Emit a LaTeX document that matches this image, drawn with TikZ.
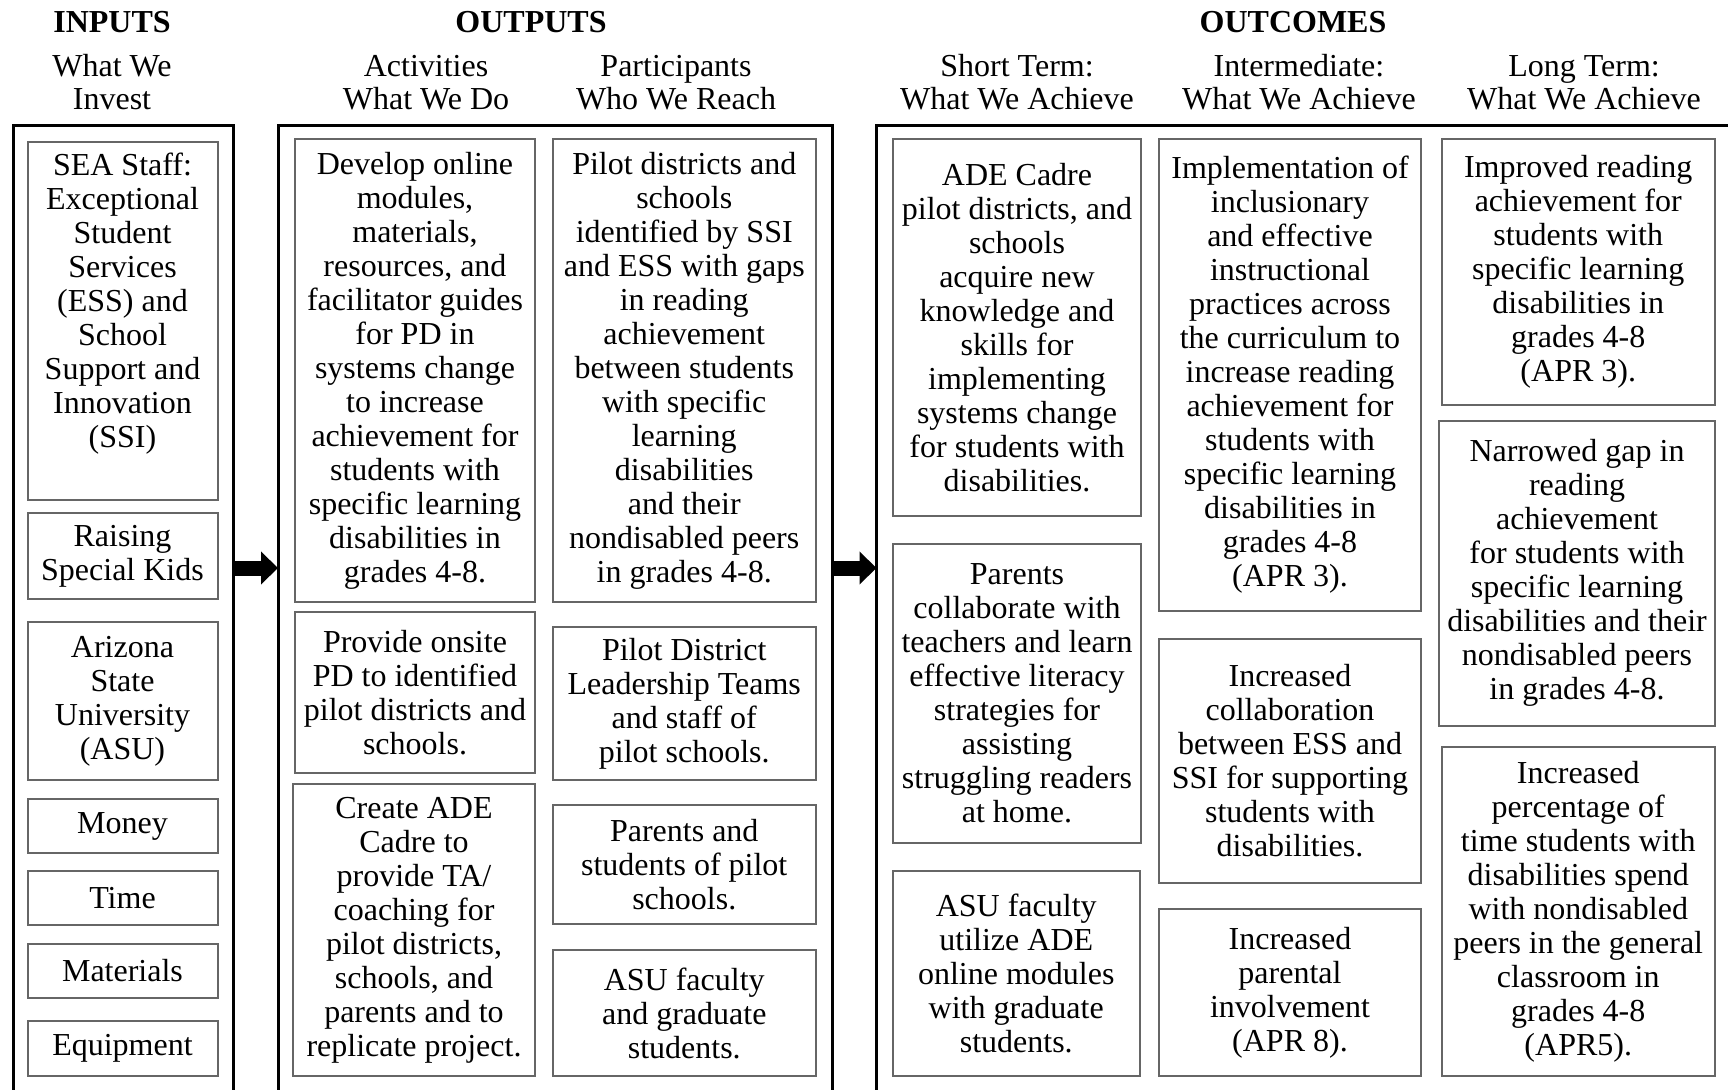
\documentclass[tikz,border=0pt]{standalone}
\usepackage{fontspec}
\setmainfont{Liberation Serif}
\usetikzlibrary{fit,arrows.meta}
\definecolor{boxgray}{gray}{0.4}
\tikzset{
  px/.style={x=0.5pt,y=-0.5pt},
  inbox/.style={draw=boxgray, line width=1pt, inner sep=0pt, outer sep=0pt},
  txt/.style={align=center, inner sep=0pt, font=\fontsize{16}{17}\selectfont},
  hdr/.style={align=center, inner sep=0pt, font=\fontsize{16}{16.5}\selectfont},
  ttl/.style={inner sep=0pt, font=\fontsize{16}{17}\selectfont\bfseries},
  frame/.style={draw=none, inner sep=0pt, outer sep=0pt},
  outline/.style={draw=black, line width=1.5pt},
  bigarrow/.style={line width=7.5pt, -{Triangle[length=8.5pt,width=16pt]}},
}
\newcommand\lmbox[7][0pt]{%
  \node[inbox, fit={(#3,#4) (#5,#6)}] (#2) {};
  \node[txt] (#2-t) at ([yshift=#1]#2.center) {#7};
}
\begin{document}
\begin{tikzpicture}[px]
\fill[white] (0,0) rectangle (1728,1090);
\useasboundingbox (0,0) rectangle (1728,1090);
% titles and headers
\node[ttl] (tin) at (112,22.5) {INPUTS};
\node[ttl] (tout) at (531,22.5) {OUTPUTS};
\node[ttl] (tocm) at (1293,22.5) {OUTCOMES};
\node[hdr] (hin) at (112,82.5) {What We\\Invest};
\node[hdr] (hact) at (426,82.5) {Activities\\What We Do};
\node[hdr] (hpart) at (676,82.5) {Participants\\Who We Reach};
\node[hdr] (hst) at (1017,82.5) {Short Term:\\What We Achieve};
\node[hdr] (hint) at (1299,82.5) {Intermediate:\\What We Achieve};
\node[hdr] (hlt) at (1584,82.5) {Long Term:\\What We Achieve};
% outer frames
\node[frame, fit={(13,126) (233,1100)}] (inputs) {};
\node[frame, fit={(278,126) (832,1100)}] (outputs) {};
\node[frame, fit={(876.5,126) (1740,1100)}] (outcomes) {};
\draw[outline] (inputs.south west) -- (inputs.north west) -- (inputs.north east) -- (inputs.south east);
\draw[outline] (outputs.south west) -- (outputs.north west) -- (outputs.north east) -- (outputs.south east);
\draw[outline] (outcomes.south west) -- (outcomes.north west) -- (outcomes.north east);
% arrows
\coordinate (ay) at (0,568);
\draw[bigarrow] (inputs.east |- ay) -- (outputs.west |- ay);
\draw[bigarrow] (outputs.east |- ay) -- (outcomes.west |- ay);
% inputs
\lmbox[9pt]{sea}{27.5}{142.5}{217.5}{500}{SEA Staff:\\Exceptional\\Student\\Services\\(ESS) and\\School\\Support and\\Innovation\\(SSI)}
\lmbox{rsk}{27.5}{513}{217.5}{599}{Raising\\Special Kids}
\lmbox{asu}{27.5}{622}{217.5}{780}{Arizona\\State\\University\\(ASU)}
\lmbox{money}{27.5}{799}{217.5}{853}{Money}
\lmbox{time}{27.5}{871}{217.5}{925}{Time}
\lmbox{mat}{27.5}{944}{217.5}{998}{Materials}
\lmbox{equip}{27.5}{1021}{217.5}{1076}{Equipment}
% activities
\lmbox{dev}{295}{139}{535}{602}{Develop online\\modules,\\materials,\\resources, and\\facilitator guides\\for PD in\\systems change\\to increase\\achievement for\\students with\\specific learning\\disabilities in\\grades 4-8.}
\lmbox{prov}{295}{612}{535}{773}{Provide onsite\\PD to identified\\pilot districts and\\schools.}
\lmbox{create}{293}{784}{535}{1076}{Create ADE\\Cadre to\\provide TA/\\coaching for\\pilot districts,\\schools, and\\parents and to\\replicate project.}
% participants
\lmbox{pdist}{553}{139}{815.5}{602}{Pilot districts and\\schools\\identified by SSI\\and ESS with gaps\\in reading\\achievement\\between students\\with specific\\learning\\disabilities\\and their\\nondisabled peers\\in grades 4-8.}
\lmbox{lead}{553}{627}{815.5}{780}{Pilot District\\Leadership Teams\\and staff of\\pilot schools.}
\lmbox{parst}{553}{805}{815.5}{924}{Parents and\\students of pilot\\schools.}
\lmbox{asuf}{553}{950}{815.5}{1076}{ASU faculty\\and graduate\\students.}
% short term
\lmbox{adec}{893}{139}{1141}{516}{ADE Cadre\\pilot districts, and\\schools\\acquire new\\knowledge and\\skills for\\implementing\\systems change\\for students with\\disabilities.}
\lmbox{parc}{893}{544}{1141}{843}{Parents\\collaborate with\\teachers and learn\\effective literacy\\strategies for\\assisting\\struggling readers\\at home.}
\lmbox{asuu}{893}{871}{1139.5}{1076}{ASU faculty\\utilize ADE\\online modules\\with graduate\\students.}
% intermediate
\lmbox{impl}{1159}{139}{1421}{611}{Implementation of\\inclusionary\\and effective\\instructional\\practices across\\the curriculum to\\increase reading\\achievement for\\students with\\specific learning\\disabilities in\\grades 4-8\\(APR 3).}
\lmbox{coll}{1159}{639}{1421}{883}{Increased\\collaboration\\between ESS and\\SSI for supporting\\students with\\disabilities.}
\lmbox{parinv}{1159}{909}{1421}{1076}{Increased\\parental\\involvement\\(APR 8).}
% long term
\lmbox{impr}{1441.5}{139}{1715}{405}{Improved reading\\achievement for\\students with\\specific learning\\disabilities in\\grades 4-8\\(APR 3).}
\lmbox{narr}{1439}{420.6}{1715}{725.7}{Narrowed gap in\\reading\\achievement\\for students with\\specific learning\\disabilities and their\\nondisabled peers\\in grades 4-8.}
\lmbox{perc}{1441.5}{746.6}{1715}{1076}{Increased\\percentage of\\time students with\\disabilities spend\\with nondisabled\\peers in the general\\classroom in\\grades 4-8\\(APR5).}
\end{tikzpicture}
\end{document}
